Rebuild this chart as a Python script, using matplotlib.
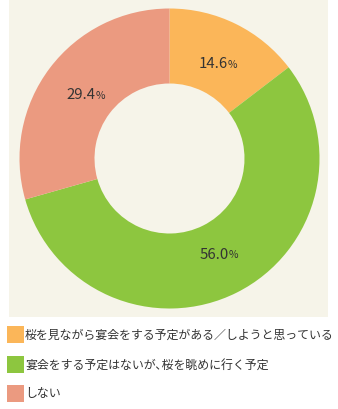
import matplotlib
matplotlib.use("Agg")
import matplotlib.pyplot as plt
import numpy as np
from matplotlib.patches import Rectangle

plt.rcParams['font.family'] = ['Noto Sans CJK JP', 'DejaVu Sans']

categories = ["桜を見ながら宴会をする予定がある／しようと思っている",
              "宴会をする予定はないが､桜を眺めに行く予定",
              "しない"]
values = [14.6, 56.0, 29.4]
colors = ["#FBB659", "#8DC63F", "#EB9A80"]
bg = "#F6F4E9"
txt = "#333333"

W, H = 338, 410
fig = plt.figure(figsize=(W/100, H/100), dpi=100)
fig.patch.set_facecolor("white")

# panel in pixels
px0, px1, py0, py1 = 9, 328, 0, 318
ax = fig.add_axes([px0/W, (H-py1)/H, (px1-px0)/W, (py1-py0)/H])
R = 150.0
cx, cy = 169.5, 159.5

wedges, _ = ax.pie(values, colors=colors, startangle=90, counterclock=False,
                   radius=1.0, wedgeprops=dict(width=0.5, linewidth=0),
                   frame=True)
ax.set_facecolor(bg)
ax.set_xlim(-(cx-px0)/R, (px1-cx)/R)
ax.set_ylim(-(py1-cy)/R, (cy-py0)/R)
ax.set_aspect('auto')
ax.set_xticks([]); ax.set_yticks([])
for s in ax.spines.values():
    s.set_visible(False)

total = sum(values)
cum = 0
for v, w in zip(values, wedges):
    mid = 90 - (cum + v/2)/total*360
    cum += v
    r = 0.71
    x = r*np.cos(np.radians(mid)); y = r*np.sin(np.radians(mid))
    ax.annotate(f"{v:.1f}", (x, y), xytext=(8, 0), textcoords='offset points',
                ha='right', va='center', fontsize=10.8, color=txt)
    ax.annotate("%", (x, y), xytext=(8, -0.5), textcoords='offset points',
                ha='left', va='center', fontsize=7.5, color=txt)

# legend
rows_y = [335, 365, 394]
for c, lab, yy in zip(colors, categories, rows_y):
    fig.patches.append(Rectangle(((7)/W, (H-yy-8.5)/H), 17/W, 17/H,
                                 transform=fig.transFigure, facecolor=c,
                                 edgecolor='none'))
    fig.text(25/W, (H-yy)/H, lab, ha='left', va='center', fontsize=8.6,
             color=txt)

fig.savefig("out.png", dpi=100, facecolor="white")
